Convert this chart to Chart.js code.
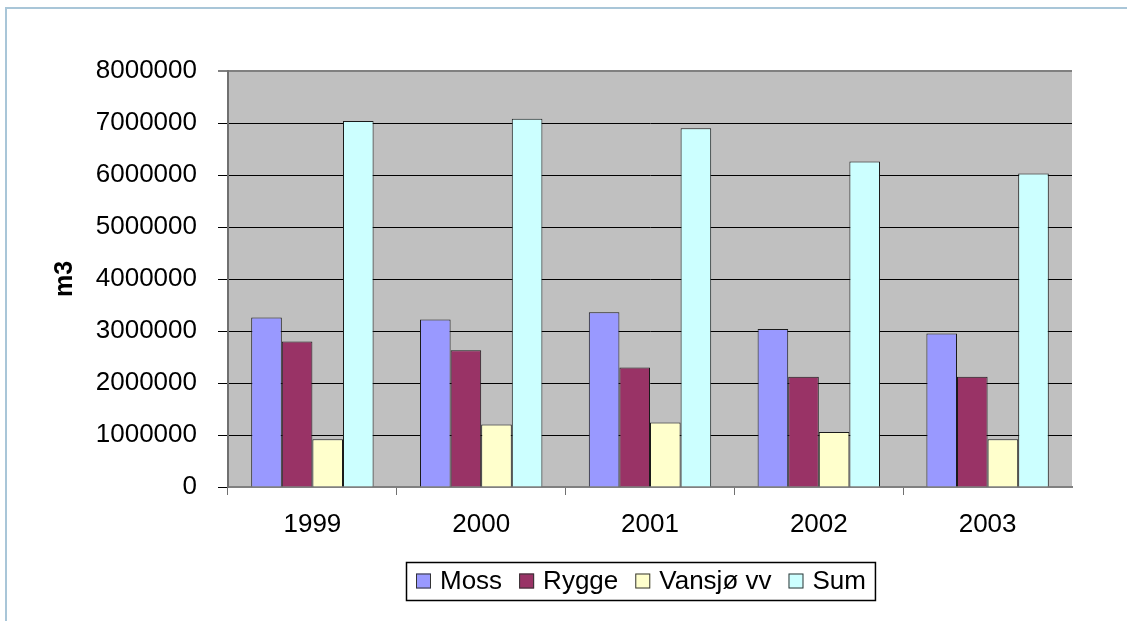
<!DOCTYPE html>
<html>
<head>
<meta charset="utf-8">
<script src="https://cdn.jsdelivr.net/npm/chart.js@4/dist/chart.umd.min.js"></script>
<style>
  html, body { margin: 0; padding: 0; background: #fff; }
  #wrap { width: 1127px; height: 621px; position: relative; }
</style>
</head>
<body>
<div id="wrap"><canvas id="c" width="1127" height="621"></canvas></div>
<script>
const categories = ['1999', '2000', '2001', '2002', '2003'];
const seriesNames = ['Moss', 'Rygge', 'Vansjø vv', 'Sum'];
const moss   = [3260000, 3220000, 3360000, 3040000, 2950000];
const rygge  = [2800000, 2630000, 2300000, 2120000, 2120000];
const vansjo = [920000, 1200000, 1240000, 1060000, 920000];
const sum    = [7040000, 7080000, 6900000, 6260000, 6030000];
const yTicks = [0, 1000000, 2000000, 3000000, 4000000, 5000000, 6000000, 7000000, 8000000];
const yTitle = 'm3';

const colors = ['#9999ff', '#993366', '#ffffcc', '#ccffff'];
const FONT = '"Liberation Sans", Arial, sans-serif';
const FS = 26;

const bgPlugin = {
  id: 'bg',
  beforeDraw(chart) {
    const {ctx, chartArea: a} = chart;
    ctx.save();
    ctx.fillStyle = '#fff';
    ctx.fillRect(0, 0, chart.width, chart.height);
    // outer frame
    ctx.strokeStyle = '#a9c6d8';
    ctx.lineWidth = 2;
    ctx.beginPath();
    ctx.moveTo(6, chart.height);
    ctx.lineTo(6, 8);
    ctx.lineTo(chart.width, 8);
    ctx.stroke();
    // plot background
    ctx.fillStyle = '#c0c0c0';
    ctx.fillRect(a.left, a.top, a.right - a.left, a.bottom - a.top);
    ctx.restore();
  }
};

const legendPlugin = {
  id: 'boxLegend',
  afterDraw(chart) {
    const {ctx} = chart;
    ctx.save();
    ctx.font = FS + 'px ' + FONT;
    ctx.textBaseline = 'middle';
    const box = 15, gapText = 9, gapItem = 17, padL = 10, padR = 9;
    const items = chart.data.datasets.map(d => ({label: d.label, color: d.backgroundColor, w: ctx.measureText(d.label).width}));
    let content = 0;
    items.forEach((it, i) => { content += box + gapText + it.w + (i < items.length - 1 ? gapItem : 0); });
    const total = content + padL + padR;
    const cx = 640;
    const left = Math.round(cx - total / 2);
    const top = 562, h = 38;
    ctx.strokeStyle = '#000';
    ctx.lineWidth = 1.5;
    ctx.strokeRect(left + 0.5, top + 0.5, total, h);
    let x = left + padL;
    const cy = top + h / 2;
    items.forEach(it => {
      ctx.fillStyle = it.color;
      ctx.fillRect(x, cy - box / 2, box, box);
      ctx.strokeStyle = '#333';
      ctx.lineWidth = 1;
      ctx.strokeRect(x + 0.5, cy - box / 2 + 0.5, box - 1, box - 1);
      x += box + gapText;
      ctx.fillStyle = '#000';
      ctx.fillText(it.label, x, cy + 1);
      x += it.w + gapItem;
    });
    ctx.restore();
  }
};

const datasets = [moss, rygge, vansjo, sum].map((vals, i) => ({
  label: seriesNames[i],
  data: vals,
  backgroundColor: colors[i],
  borderColor: '#1a1a1a',
  borderWidth: 1,
  categoryPercentage: 0.725,
  barPercentage: 1.0
}));

new Chart(document.getElementById('c'), {
  type: 'bar',
  data: { labels: categories, datasets },
  plugins: [bgPlugin, legendPlugin],
  options: {
    responsive: false,
    animation: false,
    devicePixelRatio: 1,
    layout: { padding: { left: 0, right: 55, top: 71, bottom: 74 } },
    plugins: { legend: { display: false }, tooltip: { enabled: false } },
    scales: {
      x: {
        offset: true,
        grid: {
          offset: true,
          drawOnChartArea: false,
          drawTicks: true,
          tickLength: 8,
          color: ctx => (ctx.type === 'tick' ? '#707070' : 'rgba(0,0,0,0)'),
          lineWidth: 1
        },
        border: { display: true, color: '#808080', width: 2 },
        ticks: { color: '#000', font: { family: FONT, size: FS }, padding: 14, maxRotation: 0 },
        afterFit(scale) { scale.height = 60; }
      },
      y: {
        min: 0,
        max: 8000000,
        afterBuildTicks(scale) { scale.ticks = yTicks.map(v => ({ value: v })); },
        grid: {
          color: ctx => (ctx.tick && ctx.tick.value === 8000000 ? '#808080' : '#000'),
          lineWidth: ctx => (ctx.tick && ctx.tick.value === 8000000 ? 2 : 1),
          drawTicks: true,
          tickLength: 10
        },
        border: { display: true, color: '#707070', width: 2 },
        ticks: { color: '#000', font: { family: FONT, size: FS }, padding: 21,
          callback: v => String(v) },
        title: { display: true, text: yTitle, color: '#000',
          font: { family: FONT, size: 25, weight: 'bold' }, padding: { top: 50, bottom: 0 } },
        afterFit(scale) { scale.width = 228; }
      }
    }
  }
});
</script>
</body>
</html>
